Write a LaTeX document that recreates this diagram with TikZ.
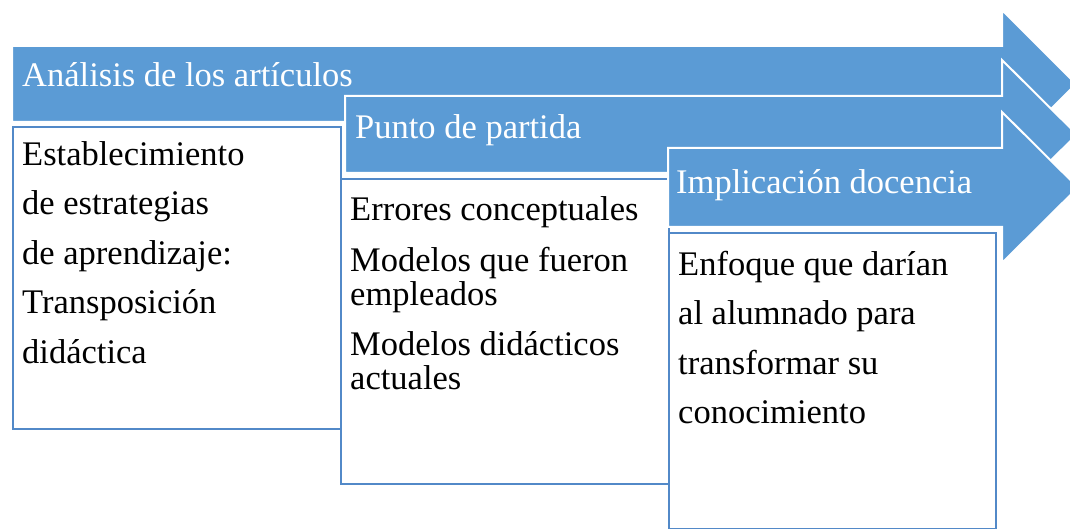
\documentclass[tikz,border=0pt]{standalone}
\usepackage{fontspec}
\setmainfont{Liberation Serif}
\usepackage{xcolor}
\usepackage{tikz}
\usetikzlibrary{positioning}
\definecolor{arrowblue}{HTML}{5B9BD5}
\definecolor{boxblue}{HTML}{5289C8}

\begin{document}
\begin{tikzpicture}[x=1pt, y=-1pt]
        \tikzstyle{band} = [fill=arrowblue, draw=white, line width=2pt, line join=miter]
        \tikzstyle{panel} = [rectangle, draw=boxblue, fill=white, line width=1.8pt, anchor=north west, inner sep=0pt]
        \tikzstyle{title} = [anchor=base west, inner sep=0pt, text=white, font=\fontsize{34.5}{40}\selectfont]
        \tikzstyle{body} = [anchor=north west, inner sep=0pt, align=left, font=\fontsize{34.5}{49.5}\selectfont]
        \useasboundingbox (0,0) rectangle (1070,529);

        % Stage 1
        \draw [band] (12,46) -- (1002,46) -- (1002,10) -- (1076,84) -- (1002,158) -- (1002,122) -- (12,122) -- cycle;
        \node (hdr1) [title] at (22,87) {Análisis de los artículos};
        \node (box1) [panel, minimum width=328pt, minimum height=302pt] at (12,126) {};
        \node (txt1) [body] at ([shift={(10pt,-15pt)}]box1.north west) {Establecimiento\\de estrategias\\de aprendizaje:\\Transposición\\didáctica};

        % Stage 2
        \draw [band] (345,96) -- (1002,96) -- (1002,60) -- (1077,134.5) -- (1002,209) -- (1002,173) -- (345,173) -- cycle;
        \node (hdr2) [title] at (355,139) {Punto de partida};
        \node (box2) [panel, minimum width=328pt, minimum height=305pt] at (340,178) {};
        \node (txt2) [body, font=\fontsize{34.5}{34}\selectfont] at ([shift={(10pt,-18pt)}]box2.north west) {Errores conceptuales\\[17pt]Modelos que fueron\\empleados\\[16pt]Modelos didácticos\\actuales};

        % Stage 3
        \draw [band] (668,148) -- (1002,148) -- (1002,112) -- (1078,187.5) -- (1002,263) -- (1002,227) -- (668,227) -- cycle;
        \node (hdr3) [title] at (676,194) {Implicación docencia};
        \node (box3) [panel, minimum width=327pt, minimum height=296pt] at (668,232) {};
        \node (txt3) [body] at ([shift={(10pt,-19pt)}]box3.north west) {Enfoque que darían\\al alumnado para\\transformar su\\conocimiento};
    \end{tikzpicture}
\end{document}
